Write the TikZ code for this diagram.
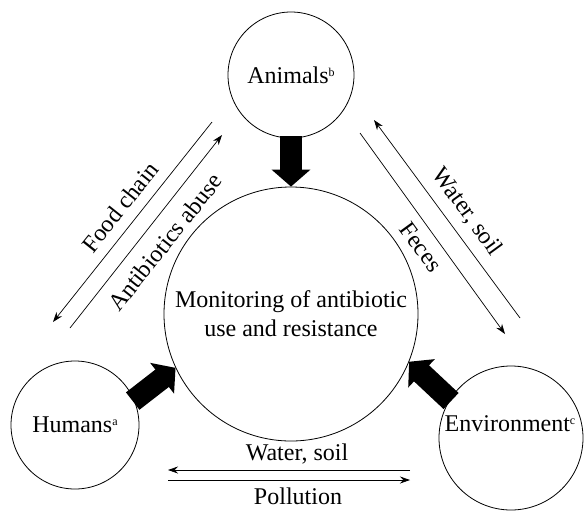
\documentclass[tikz,border=0pt]{standalone}
\usepackage{fontspec}
\setmainfont{Liberation Serif}
\usetikzlibrary{arrows.meta}

\newcommand{\supmark}[1]{\raisebox{7pt}{\fontsize{12}{12}\selectfont #1}}

\tikzset{
	hub/.style={draw, circle, line width=0.8pt, inner sep=0pt, align=center},
	bigarrow/.style={line width=22pt, -{Triangle[width=38pt,length=17pt]}, shorten <=-2pt},
	thinarrow/.style={line width=0.7pt, -{Stealth[length=10pt,width=7pt]}},
	thinline/.style={line width=0.7pt},
	flowtext/.style={inner sep=0pt}
}

\begin{document}
\begin{tikzpicture}[x=1pt,y=1pt,yscale=-1,xscale=1]
		\fontsize{24}{29}\selectfont
		\useasboundingbox (0,0) rectangle (586,512);
		
		\node [hub, minimum size=126] (animals) at (291,75) {Animals\supmark{b}};
		\node [hub, minimum size=254] (centre) at (291,314) {Monitoring of antibiotic\\use and resistance};
		\node [hub, minimum size=128] (humans) at (75,425) {Humans\supmark{a}};
		\node [hub, minimum size=144] (env) at (511,438) {};
		\node [flowtext] (envtext) at (510,424) {Environment\supmark{c}};
		
		%thick arrows into the centre
		\draw [bigarrow] (animals.south) -- (centre.north);
		\draw [bigarrow] (humans.23) -- (centre.205);
		\draw [bigarrow] (env.148) -- (centre.338);
		
		
		\coordinate (fc1) at (212,122);
		\coordinate (fc2) at (53,322);
		\coordinate (ab1) at (70,328);
		\coordinate (ab2) at (222,135);
		\draw [thinarrow] (fc1) -- (fc2);
		\draw [thinarrow] (ab1) -- (ab2);
		
		\coordinate (ws1) at (520,318);
		\coordinate (ws2) at (374,120);
		\coordinate (fe1) at (360,133);
		\coordinate (fe2) at (505,334);
		\draw [thinarrow] (ws1) -- (ws2);
		\draw [thinarrow] (fe1) -- (fe2);
		
		\coordinate (bw1) at (410,470);
		\coordinate (bw2) at (168,470);
		\coordinate (po1) at (168,480);
		\coordinate (po2) at (410,480);
		\draw [thinarrow] (bw1) -- (bw2);
		\draw [thinarrow] (po1) -- (po2);
		
		
		\node [flowtext, rotate=51.5] (foodlbl) at (120,207) {Food chain};
		\node [flowtext, rotate=51.5] (abuselbl) at (165,242) {Antibiotics abuse};
		\node [flowtext, rotate=-54] (wsrlbl) at (467,212) {Water, soil};
		\node [flowtext, rotate=-54] (feceslbl) at (421,247) {Feces};
		\node [flowtext] (wsblbl) at (297,454) {Water, soil};
		\node [flowtext] (pollbl) at (298,496) {Pollution};
		
\end{tikzpicture}
\end{document}
